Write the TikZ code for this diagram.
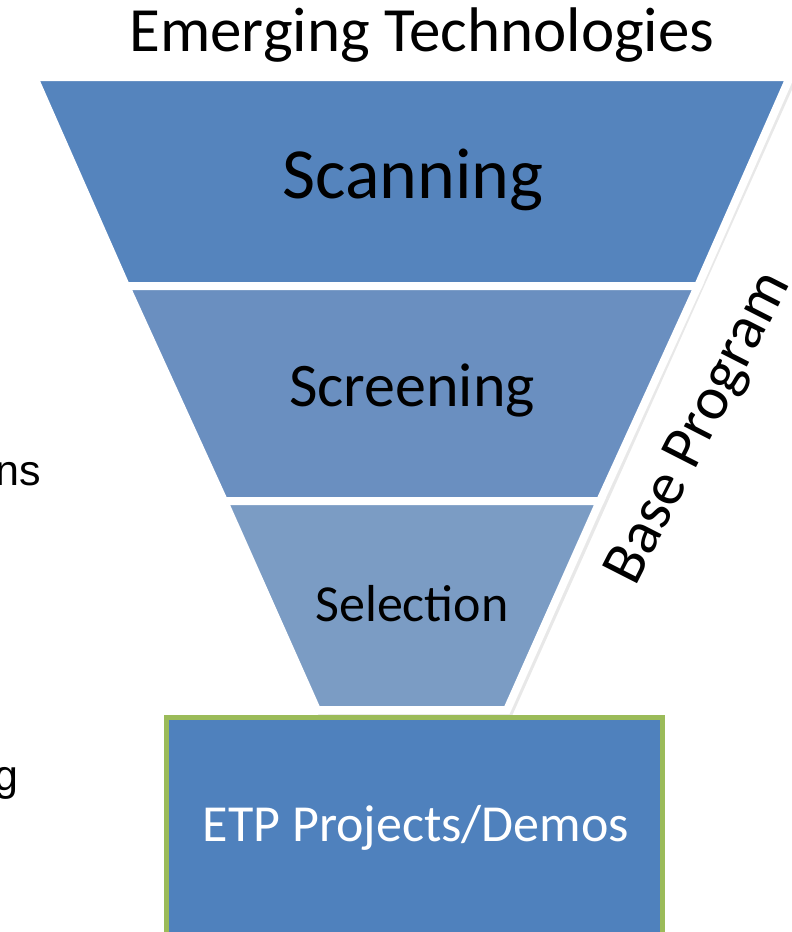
\documentclass[tikz,border=0pt]{standalone}
\usepackage{fontspec}
\setmainfont{Carlito}
\newfontfamily\arialfont{Liberation Sans}
\definecolor{bandA}{HTML}{5584BD}
\definecolor{bandB}{HTML}{6A8FC0}
\definecolor{bandC}{HTML}{7B9CC4}
\definecolor{boxblue}{HTML}{4F81BD}
\definecolor{boxgreen}{HTML}{9BBB59}
\tikzset{
  band/.style={draw=white, line width=8pt, line join=miter},
  bandshadow/.style={fill=black!20, opacity=0.45},
  lbl/.style={inner sep=0pt, text=black},
}
\begin{document}
\begin{tikzpicture}[x=1pt, y=-1pt]
    \useasboundingbox (0,0) rectangle (792,932);
    % schatten
    \fill[bandshadow] (30,73) -- (799,74) -- (512,716) -- (319,716) -- cycle;
    % trichter
    \filldraw[band, fill=bandA] (34,77) -- (790,77) -- (698,286) -- (126,286) -- cycle;
    \filldraw[band, fill=bandB] (126,286) -- (698,286) -- (600,501) -- (224,501) -- cycle;
    \filldraw[band, fill=bandC] (224,501) -- (600,501) -- (507,710) -- (317,710) -- cycle;
    % kasten
    \draw[draw=boxgreen, line width=5pt, fill=boxblue] (166.5,717.5) rectangle (662.5,950);
    % texte
    \node[lbl, font=\fontsize{63}{74}\selectfont] (title) at (422,35) {Emerging Technologies};
    \node[lbl, font=\fontsize{72}{84}\selectfont] (scan) at (413,180) {Scanning};
    \node[lbl, font=\fontsize{62}{74}\selectfont] (screen) at (412,390) {Screening};
    \node[lbl, font=\fontsize{52}{62}\selectfont] (select) at (412,604) {Selection};
    \node[lbl, text=white, font=\fontsize{52}{62}\selectfont] (etp) at (416,828) {ETP Projects/Demos};
    \node[lbl, rotate=63, font=\fontsize{61}{72}\selectfont] (base) at (700,429) {Base Program};
    % links abgeschnitten
    \node[lbl, anchor=base east, font=\arialfont\fontsize{43}{50}\selectfont] (ns) at (41,485) {ns};
    \node[lbl, anchor=base east, font=\arialfont\fontsize{43}{50}\selectfont] (g) at (19,790) {g};
\end{tikzpicture}
\end{document}
